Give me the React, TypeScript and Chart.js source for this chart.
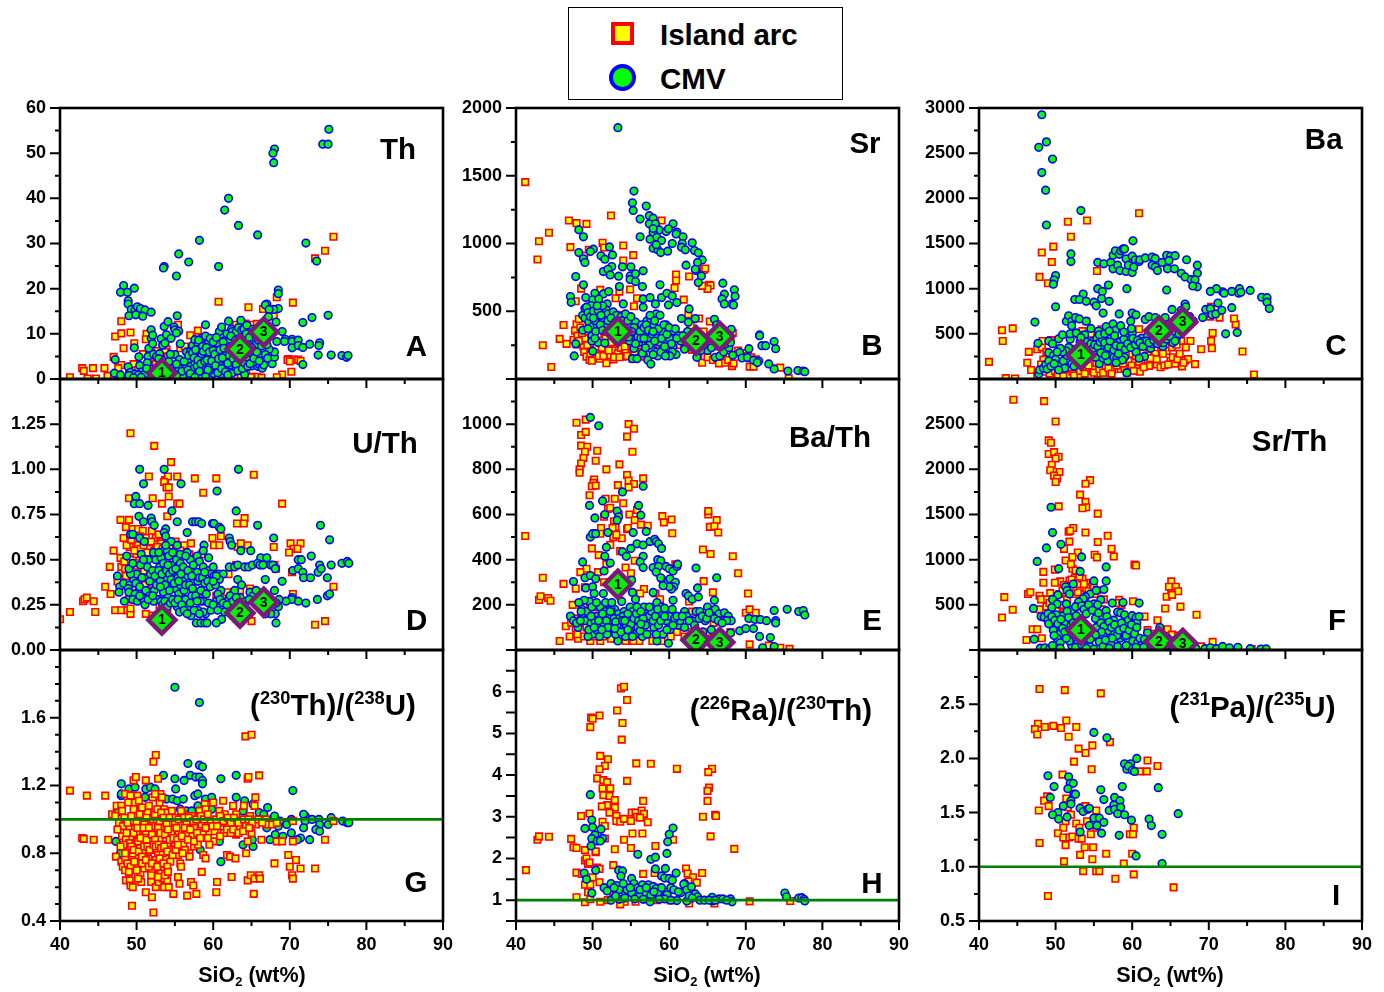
import React, { useEffect, useRef } from "react";
import { Chart, registerables } from "chart.js";
Chart.register(...registerables);

type P = number[];
const FONT = '"Liberation Sans", Arial, Helvetica, sans-serif';

const arcTh: P[] = [[75.7,31.5],[74.6,28.4],[73.3,26.7],[68.3,18.1],[60.7,17.1],[70.4,16.9],[64.6,15.9],[66.5,15.5],[67.9,13.9],[48,12.8],[47.2,9.4],[48,10.1],[49.2,10.3],[49.7,7.9],[48.3,6.8],[47,4.9],[42.9,2.4],[43.1,1.8],[44.3,2.4],[45.8,2.4],[41.3,.4],[43.6,.1],[44.7,.1],[46.2,.7],[48,3.1],[47.6,2.4],[49.6,3.3],[51.3,10],[51.2,8.8],[55.4,12],[57,9.7],[58,10.7],[55.7,6.8],[56.3,7.2],[53.9,6.6],[53.7,6],[54.1,5],[69.8,4.4],[70.4,4.3],[71.1,4.3],[71.4,4],[70.2,1.6],[69,1],[68.3,.4],[65.7,.5],[65,.5],[66.3,.3],[62.6,1.6],[63.2,1.5],[65.2,12],[65.7,12.2],[64.2,12.3],[63,12],[50.8,5.5],[51.6,4.2],[52.5,3.3],[49,1.2],[53.2,1.8],[54.7,1.5],[55.8,2],[58.7,.4],[60,2.5],[62,2],[64.3,1.2],[64.9,.4],[66,7.4],[67,9],[66.5,6.6],[52.7,6.2],[50.2,2],[56.9,5.8],[59.2,6],[64.8,5],[63.6,.8],[47.5,.9],[69.7,4.2],[70,3.9]];
const cmvTh: P[] = [[75.1,55.3],[74.3,52],[75,52],[68,50.9],[67.8,50],[67.9,47.9],[62,40],[61.5,37.4],[63.3,34],[65.8,31.9],[58.2,30.7],[72.1,30.1],[73.5,26.1],[55.5,27.7],[56.8,25.9],[53.6,24.9],[53.5,24.6],[55.2,22.8],[60.7,24.9],[48.3,20.7],[47.9,19.2],[48.8,19.2],[49.7,20.1],[48.9,17.3],[48.9,16.6],[49.3,15.4],[49.8,15.3],[50.1,16],[50.5,15.6],[51.1,15.3],[51.9,14.8],[49,14],[49.9,14.2],[50.8,13.9],[55.3,14],[49.7,6.9],[47.2,4.3],[75,14.1],[72.9,13.6],[71.7,12.5],[68.5,19.7],[68.5,18.9],[67,16.6],[66.8,16.4],[68.5,15.6],[67.9,15.4],[67.3,15.4],[67.2,13.8],[68.2,12.6],[69,10.5],[68.3,8.3],[69.4,8.8],[69.3,8.3],[70.3,8.8],[70.3,8.3],[70.3,6.9],[71.1,8.6],[71.1,7.4],[71.7,7],[72.6,7.7],[73.9,8],[73.8,7.4],[73.7,5.3],[75.4,5.3],[76.8,5.2],[77.4,4.8],[77.6,5.2],[71.7,3.2],[67.7,3.4],[68,4.8],[68,6],[67.3,6.6],
[47.1,1.3],[47.9,.9],[48.9,2.7],[49.2,1.5],[49.4,.5],[49.8,1.1],[50.3,4.9],[50.4,3],[50.7,1.6],[51.1,1.2],[51.5,5],[51.6,6.8],[51.4,3.6],[51.8,.9],[51.9,9],[51.9,10.9],[52.1,9.7],[52.1,7.8],[52.2,5.5],[52.6,5],[52.9,1.2],[53.2,8.9],[53.4,7.5],[53.7,7.9],[53.6,11.6],[54.1,12.7],[53.9,9.8],[54.5,9],[54.9,11.5],[55,10.9],[55.5,10.6],[55.2,10.2],[55.7,7.8],[55,5.4],[55.6,4.3],[55.5,2.4],[54.5,3],[54.2,1.8],[53.8,.8],[56.4,1.2],[56.5,3],[56.5,6],[56.9,4.3],[57.1,2.8],[57.3,7.4],[57.6,8.7],[58,7.6],[57.8,5],[57.6,3.7],[57.4,2.2],[57.9,1.2],[58.3,.9],[58.5,9],[59,9.5],[59.4,8],[59,12],[59.6,6.8],[59.9,5],[60,3.5],[59.3,3],[58.8,2.1],[60,1.2],[60.3,7.4],[60.5,7.5],[60.9,9.8],[60.8,10.5],[60.6,7.9],[60.9,5.5],[61.2,3.5],[60.5,2],[61,1.1],[61.1,11.5],[61.8,10],[62,12.8],[62.4,11],[62.5,10.5],[62,8.2],[62,4.3],[61.5,2.9],[62.4,3],[62.7,1.7],[63,10.4],[63.3,11.4],[63.7,10.8],[63.6,13],[64,11],[64.4,11.9],[64.1,8.5],[63.6,7],[63.3,3.8],[63.5,1.9],[64,2.7],[64.6,5.5],[64.9,4.5],[64.1,1],[65,2.9],[65.8,2.8],[66,3.2],[66.4,2.4],[66.6,3.1],[66.1,5.2],[66.8,5.4],[65.2,8.5],[65.5,7.6],[58.2,6.5],[58.6,4.4],[59.1,5.3],[59.4,1.6],[61.7,6],[62.9,5.6],[63,2.5],[65.4,3.9],[56,.5],[57,6],[53,3.1],[52,2.2],[50.9,.6],[49,.8],[61.5,5.7]];
const cmvThExtra: P[] = [[52.4,.8],[52.8,2.6],[53.3,4.2],[53.9,3],[54.4,2.3],[54.9,1],[55.2,3.3],[55.9,1.7],[56.2,3.9],[56.7,2],[56.8,5.2],[57,1.2],[57.3,5.8],[57.5,4.7],[57.7,6.5],[57.9,2.9],[58,4.2],[58.1,8.6],[58.2,1.7],[58.4,3.4],[58.5,5.6],[58.6,7.2],[58.7,6.1],[58.9,3.9],[59.1,7],[59.2,4.2],[59.3,2],[59.5,6],[59.6,9],[59.8,4],[60,6.3],[60,8.2],[60.2,5.5],[60.3,3],[60.4,9.2],[60.6,1.4],[60.7,4.5],[60.9,6.5],[61.1,2.3],[61.2,4.7],[61.3,8.2],[61.4,6.8],[61.6,1.6],[61.9,3.5],[62.1,5.2],[62.2,7.2],[62.3,9.5],[62.4,1.2],[62.6,4.5],[62.8,6.6],[62.9,8.6],[63,3.2],[63.2,1.8],[63.3,5],[63.5,9],[63.7,4.4],[63.8,2.3],[64,6],[64.1,3.5],[64.2,7.4],[64.3,10],[64.4,4.8],[64.5,2.8],[64.7,9.2],[64.8,3.4],[65,7],[65.1,5.6],[65.2,11],[65.3,4.6],[65.5,9.8],[65.7,6],[65.9,8.6],[66,4],[66.3,7.3],[66.7,9.3],[67,7.6],[67.1,4.6],[51,1],[51.3,2.3],[52.6,.4],[53.4,1.6],[50.2,.9],[50.6,.4],[49.6,.3],[54.6,.5],[55.2,.7],[57.6,.4],[59,.5],[61.9,.9],[54.2,3.9],[53,5.6],[52.9,4.5],[54.4,5.5]];

const arcSr: P[] = [[41.2,1453],[46.9,1170],[47.9,1150],[49.2,1145],[44.3,1079],[43,1017],[42.8,882],[47.1,973],[51.3,1005],[51.5,970],[52.4,1207],[54,985],[59,1170],[55.3,914],[54,875],[49.5,953],[48.9,910],[64.5,805],[64.7,815],[62.6,756],[60.9,771],[60.9,727],[60.7,672],[61.9,586],[65.2,695],[65.4,690],[65,665],[64.3,687],[54.9,660],[51,658],[48.5,667],[47.8,574],[53,596],[53.5,645],[55.8,596],[55.4,537],[53.6,473],[62.5,478],[63.9,446],[65.3,424],[46.2,399],[47.9,404],[48.2,443],[47.7,357],[45.7,296],[46.6,259],[43.5,249],[44.6,89],[51.9,140],[51.8,116],[52.7,145],[70.5,91],[71,91],[74.5,84],[75.6,5],
[47.5,290],[47.9,255],[48,320],[48.4,380],[48.8,240],[48.9,200],[49,300],[49.2,165],[49.6,140],[49.9,135],[49.5,350],[50,260],[50.3,200],[50.7,330],[50.9,150],[51.1,280],[51.5,205],[51.8,240],[52,300],[52.3,175],[52.6,215],[53,260],[53.3,190],[53.7,230],[54,165],[54.3,200],[54.6,260],[55,175],[55.3,235],[55.7,300],[56.1,200],[56.7,165],[57.2,260],[57.9,220],[58.5,180],[59.1,260],[60,230],[60.5,290],[61.1,250],[63,215],[63.8,175],[64.3,120],[65,160],[65.7,140],[66.3,150],[66.5,115],[67,170],[67.3,120],[67.7,140],[68.2,95],[68.4,115],[69,210],[70,190],[70.3,170],[70.7,160],[71.3,145],[66,240],[67.8,210],[68,300],[68.3,340],[64.5,350],[62.8,395],[63.5,295],[49.8,460],[50.5,420],[49.1,500],[54.6,440],[55.8,395],
[48.2,280],[48.6,340],[49.3,250],[49.7,190],[50.2,300],[50.5,240],[50.8,170],[51.2,230],[51.4,170],[51.7,300],[52.1,210],[52.4,270],[52.8,160],[53.2,300],[53.5,160],[53.8,280],[54.2,240],[54.5,170],[54.8,300],[55.2,150],[55.5,200],[56,250],[56.4,170]];
const cmvSr: P[] = [[53.3,1855],[55.4,1387],[55.2,1300],[55.3,1244],[57,1276],[56.2,1180],[56.2,1050],[57.4,1205],[57.9,1187],[57.4,1145],[58.2,1145],[60.5,1145],[58.7,1100],[57.9,1081],[57.9,1110],[59.6,1088],[59.9,1108],[61,1084],[60.9,1071],[61.8,1049],[57.5,1032],[58.4,1047],[59,1022],[60.4,1000],[61.7,1000],[61.6,973],[62.1,953],[63,1005],[63.3,948],[63.8,931],[57.9,965],[58.5,953],[58.3,990],[58.9,933],[59.8,943],[64.3,879],[63.7,860],[62.2,840],[63.5,800],[63.4,810],[64.2,761],[63.8,712],[67,707],[68.5,658],[67.2,626],[68.6,611],[66.9,591],[67.2,554],[68.2,554],[68.4,547],[68.1,367],[71.8,325],[71.8,320],[72.1,246],[72.6,246],[73.7,276],[73.9,224],[70.4,224],[69.2,195],[69.5,155],[70.2,158],[71,138],[71.7,133],[71.5,121],[73,111],[73.7,74],[75.5,59],[76.8,62],[77.5,59],[77.7,54],[68.3,175],[65.9,441],[63.4,446],[62.5,419],[61.6,446],[62.6,517],
[48.2,1101],[48.8,1049],[52.2,975],[50.1,958],[49.7,941],[48.2,933],[48.8,887],[49,860],[52.6,916],[51.1,909],[51.6,884],[52.5,830],[53.9,828],[55,828],[51.4,793],[52,810],[52.3,768],[53.4,759],[54.9,761],[55.6,776],[56.6,798],[54.9,735],[55.6,719],[53.5,682],[47.8,756],[48.8,695],[47.1,608],[47.2,566],[58.8,695],[56.5,682],[50.3,633],[51.4,628],[52.1,645],[49.1,601],[50,584],[50.8,591],[51.9,554],[49.8,542],[49,522],[54,554],[56.6,591],[57.5,601],[59,601],[59.7,633],[60.4,613],[61,564],[59.9,547],[58.2,554],[56.6,530],
[48.7,470],[49,450],[49.5,420],[50,390],[50.4,470],[50.6,400],[50.9,490],[51.4,440],[51.8,510],[52,480],[52.7,495],[53.1,470],[53.7,460],[54.3,480],[54.9,400],[55.6,420],[56,380],[56.4,400],[57.1,430],[57.6,440],[58,390],[58.3,480],[58.8,470],[59.1,350],[59.6,400],[60.2,350],[60.6,355],[61.2,320],[62.4,350],[48.7,360],[49.9,320],[50.4,350],[50.7,270],[50,205],[51.6,265],[47.6,170],[47.8,260],[54.8,280],[55.4,225],[55.2,150],[55.8,150],[56,270],[56.5,190],[57,340],[57.2,140],[57.4,300],[57.6,110],[57.7,220],[58.3,200],[58.5,170],[58.8,270],[59.2,220],[59.6,275],[60,300],[60.5,240],[60.9,180],[61.5,280],[62,220],[63.4,280],[63.6,160],[65,210],[65.5,230],[66,160],[66.6,170],[67.1,200],[67.8,230],[56.4,345],[55.8,340],[54.7,310],[52.8,360],[65.4,310],[66.2,400]];
const cmvSrExtra: P[] = [[49.2,530],[49.4,490],[49.7,460],[50.1,500],[50.3,430],[50.7,510],[51.1,470],[51.3,540],[51.6,400],[52,430],[52.4,450],[53,420],[53.8,430],[54.6,430],[55,460],[55.4,380],[55.9,310],[56.2,350],[56.7,380],[57,400],[57.3,360],[57.5,470],[57.8,330],[58.1,430],[58.4,300],[58.6,370],[59,300],[59.3,400],[59.7,330],[60,380],[60.3,260],[60.8,370],[61,300],[61.8,320],[57.4,250],[57.9,180],[58.1,280],[58.9,200],[59.4,240],[56.9,230],[56.3,300],[55.6,260],[55.1,350],[54.4,350],[56.7,300],[57.9,350],[60.4,200],[60.1,170],[59.5,170],[64.5,250],[64.1,210],[65.9,300],[66.7,240],[67.4,260],[68,270],[62.8,280],[63,240],[50.1,450],[50.6,540],[49.4,370],[49.9,280],[50.3,300],[51,400],[51.3,360]];

const arcBa: P[] = [[41.3,190],[43,540],[43.1,420],[44.4,560],[43.5,10],[44.7,5],[46.5,300],[46.8,100],[46.3,180],[47.6,40],[47.9,1130],[49,1060],[48.2,1400],[49.5,1295],[49.7,1465],[51.6,1740],[52,1575],[54.1,1755],[55.4,1195],[60.9,1835],[47.6,330],[48.2,350],[48.4,215],[48.7,80],[49.4,30],[50.5,20],[51.7,40],[53,30],[54.1,90],[55.5,60],[56.6,70],[57.4,100],[58.5,110],[59.5,100],[60.5,130],[61,80],[62,180],[62.2,145],[63.2,160],[63.7,130],[64.2,150],[65,200],[65.6,170],[66.5,140],[66.9,205],[67.3,220],[68.2,165],[69,330],[70.3,420],[70.4,340],[70.5,510],[73.5,605],[75.9,50],[74.4,305],[73.3,670],[71.4,680],[70.2,690],[70.3,800],[48.8,300],[49.8,200],[50,130],[50.7,60],[51.3,280],[52.2,80],[52.8,170],[53.5,120],[54.3,240],[54.8,110],[55.3,180],[56,310],[56.5,140],[57,250],[57.5,190],[58,300],[58.4,230],[59,120],[59.5,200],[60,280],[60.5,250],[60.9,550],[61.4,300],[62,260],[63,280],[63.8,350],[64.5,310],[65.2,350],[66.4,420],[67.6,420],[65.8,380],[54,640],[53.5,530],[55,460],[56,550],[58,340],[60.2,360],
[48.1,160],[48.9,120],[49.2,60],[49.9,90],[50.3,50],[51,30],[51.2,110],[51.9,130],[52.4,40],[53.2,90],[53.8,60],[54.3,150],[55,70],[55.7,110],[56.2,70],[56.9,120],[57.3,60],[58,150],[58.8,170],[59.3,70],[59.9,150],[60.2,90],[60.9,190],[61.5,130],[62.4,230],[63.2,220],[64,280],[64.7,160],[65.3,240],[65.9,220],[66.2,280],[66.7,180],[67,350],[48.3,420],[49.4,430],[50.5,330],[53,490],[53.7,420],[54.6,500],[56.4,440],[57.3,360],[59.2,420]];
const cmvBa: P[] = [[48.2,2925],[48.8,2625],[47.8,2565],[49.6,2435],[48.2,2285],[48.7,2090],[53.3,1865],[60.1,1530],[48.8,1705],[52,1385],[52,1300],[50,1145],[49.8,1095],[49.7,1050],[55.5,1290],[56.3,1275],[57.2,1290],[57.5,1370],[57.8,1420],[58.3,1380],[58.5,1420],[58.8,1440],[59,1440],[59.2,1330],[60,1360],[60.4,1320],[60.9,1300],[61,1320],[61.7,1340],[62.6,1350],[63,1335],[62.6,1260],[63,1240],[63.3,1200],[63.9,1290],[64.5,1370],[65,1360],[65.6,1365],[64.6,1220],[65.5,1220],[64.8,1310],[57.5,1220],[58.1,1260],[58.4,1200],[59.2,1190],[59.5,1260],[60,1180],[60.2,1240],[66.4,1170],[66.9,1130],[67.1,1320],[67.7,1100],[68,1040],[68.5,1260],[68.5,1170],[68.2,1100],[68.5,1020],[67.9,1030],[55.5,1000],[56.1,970],[56.9,1040],[59.3,1000],[64.5,985],[52.5,880],[53.6,940],[53.1,880],[54,860],[55,850],[55.3,810],[56,890],[57,860],[56.2,730],[58.3,720],[60,730],[60.5,710],[61.7,660],[62.2,690],[63,680],[59.8,640],[50,800],[47.3,630],[47.7,395],[49.1,420],[49.1,290],[49.6,390],[49.7,260],[50.4,445],[50.9,490],[51.4,640],[51.7,700],[51.9,440],[52.1,640],[52.1,590],[52.6,680],[53.1,665],[54,640],[53.8,490],[54.2,380],[54.9,420],[55.4,450],[55.6,530],[56,380],[56.3,340],[56.6,580],[56.8,450],[57,290],[57.4,390],[57.5,610],[57.8,540],[58.1,420],[58.3,330],[58.5,590],[58.7,300],[59,240],[59.2,490],[59.6,430],[60,510],[60.3,400],[60.5,300],[60.8,380],[61.2,450],[61.6,420],[61.6,250],[62,480],[62.4,340],[62.6,390],[63,530],[63.1,400],[63.5,440],[64,360],[64.3,680],[65.2,770],[65.8,460],[66.4,760],[66.9,830],[67,800],[67.5,690],[68,640],[69.2,680],[69.6,770],[70.2,780],[70.4,710],[70.9,720],[71.2,840],[71.7,760],[71.8,965],[71,1000],[72,950],[73,970],[70.2,970],[73.9,950],[74,1000],[74.2,960],[75.4,980],[76.9,905],[77.6,900],[77.6,850],[77.9,780],[72.2,500],[73.7,515],[73,790],[47.8,55],[47.9,100],[48.4,120],[48.7,160],[49.5,180],[50,220],[50.2,130],[50.7,160],[51,200],[51.2,120],[51.5,260],[52.1,170],[52.4,140],[52.9,230],[53,350],[53.6,300],[54,410],[54.4,330],[54.8,280],[55.3,300],[55.7,170],[56.2,230],[56.8,200],[57.6,240],[58,230],[58.4,410],[59.3,350],[60.9,230],[59.3,70],[58.7,210]];
const cmvBaExtra: P[] = [[53.2,410],[53.9,350],[54.1,300],[54.6,390],[54.9,340],[55.1,380],[55.5,360],[55.8,410],[56.1,440],[56.4,400],[56.6,310],[56.9,350],[57.1,420],[57.2,490],[57.6,320],[57.9,370],[58.2,280],[58.5,360],[58.9,440],[59.1,330],[59.4,390],[59.8,350],[60.1,450],[60.4,380],[60.7,430],[61,400],[61.4,360],[61.9,420],[62.2,400],[62.8,430],[63.3,390],[63.7,410],[64.1,400],[64.5,440],[64.9,470],[65.3,400],[65.6,420],[66.1,500],[52.1,330],[52.5,290],[51.7,350],[51.4,310],[50.9,300],[50.6,340],[50.2,300],[53.2,270],[55.2,240],[55.9,290],[56.5,260],[57.9,180],[51.9,500],[52.7,510],[53.3,460],[54.6,560],[55.7,490],[56.4,500],[57,530],[57.7,480],[58.9,520],[59.9,560],[48.9,110],[49.1,200],[49.4,140],[49.8,170],[50.4,100]];

const arcUTh: P[] = [[49.2,1.2],[52.3,1.13],[54.5,1.04],[51.6,.96],[53.7,.94],[54.1,.96],[55.3,.96],[57.6,.95],[60.4,.95],[65.3,.97],[53.6,.93],[53.9,.9],[54.2,.9],[54.2,.85],[58.7,.87],[49,.84],[52.1,.84],[53.3,.81],[55.3,.81],[55.6,.81],[69,.81],[54,.74],[64.1,.73],[63.1,.7],[64,.7],[47.9,.72],[49,.72],[48.6,.68],[49.5,.67],[50.2,.67],[50.8,.66],[52,.66],[52.5,.62],[52.9,.64],[53.1,.6],[51.2,.62],[50.2,.58],[49.1,.57],[47,.55],[50.5,.56],[51.7,.56],[53.2,.59],[54.3,.57],[55.1,.6],[56.2,.58],[57.1,.59],[58.5,.53],[59.9,.62],[60.1,.58],[63.2,.57],[63.6,.59],[67.9,.57],[70.1,.59],[71.4,.59],[70.5,.56],[69.9,.54],[71,.56],[46.5,.46],[47.9,.51],[48,.46],[48.4,.49],[48.5,.45],[49.5,.5],[50,.53],[50.8,.47],[52.3,.51],[48.9,.38],[45.9,.35],[46.6,.31],[43,.27],[43.2,.28],[43.5,.29],[44.4,.27],[44.6,.21],[41.3,.21],[40,.17],[47.2,.22],[48,.22],[48.8,.22],[49.2,.2],[49.2,.23],[50,.29],[51.2,.2],[52.1,.19],[53,.25],[54,.22],[56,.27],[58,.3],[60.4,.3],[61.5,.3],[63.5,.33],[64.8,.34],[65.5,.3],[66.2,.32],[65,.16],[73.3,.14],[74.6,.16],[75.7,.35],[70.4,.31],[70.3,.43],[68,.47],[62,.42],[63,.47],[55.5,.44],[57.6,.4],[59.2,.35],[50.5,.37],[51.5,.33],[53,.42],
[48.3,.62],[48.7,.58],[49.3,.61],[49.7,.55],[50.4,.63],[50.9,.58],[51.4,.54],[51.9,.6],[52.3,.55],[52.7,.57],[53.4,.56],[48.6,.41],[49.2,.45],[49.8,.43],[50.2,.48],[50.6,.42],[51,.44],[51.4,.4],[47.5,.38],[49,.28],[49.6,.35],[50.3,.33],[51.1,.36],[52.4,.38],[52.9,.36],[53.8,.36],[54.8,.5],[55.7,.55],[56.9,.53],[60.8,.58],[61,.63],[64.5,.58],[61.8,.32],[62.6,.3],[66.7,.3],[68.2,.45]];
const cmvUTh: P[] = [[50.4,1],[53.6,1],[63.3,1],[50.9,.92],[55.8,.92],[60.5,.88],[49.9,.85],[49.7,.81],[50.4,.81],[51.5,.8],[54.6,.77],[63,.77],[50.3,.74],[50.9,.71],[51.9,.73],[52,.71],[52.3,.69],[55.3,.71],[57.3,.71],[57.7,.71],[58.1,.71],[58.5,.7],[59.9,.7],[60.1,.7],[60.8,.68],[61,.67],[65.8,.69],[74,.69],[75.2,.61],[67.9,.62],[62.1,.62],[62.2,.6],[62.4,.58],[63.6,.55],[66.2,.51],[64.9,.55],[49.2,.64],[49.5,.64],[50.4,.62],[51,.6],[53.8,.67],[53.6,.65],[53.8,.63],[54.5,.6],[55.3,.58],[56.6,.54],[56.6,.65],[58.8,.58],[58.7,.55],[59.4,.51],[48.7,.52],[50.6,.53],[51.5,.5],[52.5,.5],[53.2,.51],[53.6,.55],[54,.55],[54.2,.52],[54.8,.47],[55.2,.5],[55.7,.48],[56.1,.46],[57,.5],[57.1,.44],[57.9,.52],[58.2,.49],[58.7,.46],[59.4,.44],[60,.46],[60.7,.42],[61.3,.42],[62.1,.46],[62.8,.46],[63.2,.47],[64.1,.46],[64.6,.46],[65.1,.47],[65.8,.48],[66.1,.47],[66.5,.47],[67,.51],[67.5,.47],[67.8,.47],[68.1,.45],[66.8,.39],[69,.38],[70.4,.44],[71.1,.5],[71.5,.5],[71.1,.45],[71.7,.43],[71.8,.4],[72.7,.4],[73.9,.47],[73.7,.43],[74.1,.45],[75.4,.47],[74.9,.4],[76.8,.48],[77.5,.49],[77.7,.48],[72.8,.52],[73.6,.28],[74.9,.3],[75.2,.31],[72.1,.26],[71.1,.27],[70.3,.29],[70.2,.28],[69.5,.27],[63.2,.39],[63.7,.36],[68,.33],[68.6,.28],[68.5,.24],[68.1,.2],[67.5,.2],[68.2,.15],[47.5,.41],[47.8,.35],[48.3,.37],[49.1,.36],[49.6,.39],[50,.42],[48.9,.34],[47.7,.32],[49,.32],[49.8,.31],[48.4,.27],[49.5,.28],[50.1,.27],[50.6,.29],[51,.27],[51.1,.25],[51.7,.38],[52.3,.33],[52.8,.28],[53.5,.32],[54,.39],[54.6,.35],[54.1,.29],[55,.34],[55.7,.36],[55.3,.24],[55.6,.21],[56.4,.28],[56.8,.24],[57.1,.19],[57.2,.3],[57.5,.38],[58,.38],[58.4,.33],[58.7,.27],[59,.2],[59.9,.36],[60.4,.27],[60.8,.39],[61,.33],[61.5,.21],[61.1,.17],[60.4,.15],[58,.22],[58.7,.21],[57.8,.15],[58.4,.15],[58.9,.15],[59.2,.15],[62,.28],[62.8,.33],[63.5,.29],[64.8,.32],[65.2,.3],[65.6,.33],[62.4,.22],[63,.17],[66.8,.2],[67.2,.27],[51.8,.42],[53,.46],[54.9,.42],[56.5,.41]];
const cmvUThExtra: P[] = [[49.2,.42],[49.9,.37],[50.4,.35],[50.7,.4],[51.2,.33],[51.4,.46],[51.7,.3],[52.1,.44],[52.2,.27],[52.4,.41],[52.6,.36],[52.9,.44],[53.1,.38],[53.3,.42],[53.5,.48],[53.7,.36],[53.9,.44],[54.1,.47],[54.3,.42],[54.5,.39],[54.7,.44],[54.9,.37],[55.1,.45],[55.4,.4],[55.5,.31],[55.8,.42],[56,.38],[56.2,.33],[56.4,.36],[56.7,.44],[56.9,.36],[57.3,.34],[57.4,.47],[57.7,.3],[57.9,.43],[58.2,.4],[58.3,.27],[58.6,.4],[58.9,.37],[59.1,.31],[59.3,.38],[59.6,.35],[59.8,.42],[60.1,.41],[60.3,.36],[60.4,.41],[60.6,.31],[60.9,.28],[53.2,.27],[53.4,.25],[53.7,.27],[54,.24],[54.4,.26],[54.7,.28],[55,.26],[55.4,.28],[55.9,.25],[56.2,.22],[56.6,.2],[57,.26],[57.5,.22],[57.9,.27],[58.2,.2],[59.4,.26],[59.7,.22],[60,.25],[60.6,.22],[61.3,.26],[61.8,.25],[62.2,.3],[62.6,.27],[63,.29],[63.3,.26],[63.9,.24],[64.3,.27],[64.7,.28],[65.4,.27],[66,.26],[66.4,.24],[67,.24],[67.7,.26],[68.2,.26],[51.5,.28],[52.1,.3],[50.4,.3],[49,.45],[50.5,.47],[49.5,.48],[50.9,.5],[52.2,.54],[52.9,.54],[53.8,.58],[54.7,.54],[55.7,.53],[56.4,.52],[53.1,.35],[54.3,.33],[55.5,.38],[57.2,.41],[58.9,.43],[60,.38]];

const arcBaTh: P[] = [[41.2,505],[43,222],[43.2,238],[44.2,230],[44.5,218],[43.5,320],[46.2,293],[47.9,1006],[49.1,1020],[48.5,952],[49.1,966],[48.5,905],[49.3,900],[49,878],[50.6,882],[48.8,850],[50.4,838],[48.5,826],[48.3,800],[48.3,785],[50.2,755],[50.1,740],[49.9,725],[50.4,728],[49.6,685],[54.7,1000],[55.4,980],[54.5,945],[55.2,878],[53.5,822],[51.8,800],[54.5,775],[54.7,750],[56.6,760],[55.4,735],[53.3,730],[54.7,720],[51.7,670],[52,625],[52.9,670],[54,650],[52.3,630],[51.5,590],[52.8,570],[54.8,600],[55.8,620],[55.5,575],[56.3,555],[57.2,550],[59.1,593],[59.3,565],[60.3,578],[60.4,517],[51.1,540],[53,545],[54.5,535],[53.8,495],[54.6,540],[51,515],[49.9,450],[52.3,465],[53.6,438],[50.8,420],[51.8,380],[50.7,345],[49.2,360],[48.4,345],[47.8,272],[49,278],[47.4,200],[48.5,170],[54.3,365],[55.5,395],[55,340],[56.7,270],[56.2,250],[58.2,250],[58.8,225],[60.8,380],[61,375],[64.4,445],[65.4,425],[68.3,415],[69,340],[65.1,600],[65.1,615],[66.2,575],[65.3,545],[65.9,548],[66.4,520],[64.5,305],[65.7,255],[70.3,250],[62.6,215],[70,165],[70.5,180],[71.3,165],[46.5,105],[47.8,95],[47,60],[45.7,40],[48.1,50],[48.8,120],[49.5,75],[50.4,90],[51,40],[52,70],[53,50],[54,100],[54.9,60],[56.1,40],[57.5,70],[59,40],[61,80],[62,60],[63.5,40],[65,80],[65.8,120],[67,30],[68,80],[70.5,25],[73,20],[74.5,10],[75.7,5],[64.4,150],[66.8,160],[63,170],[49.9,150],[50.4,190],[48.8,200],[51.5,180],[52.6,120],[55.5,180],[57,130],[59.5,150],
[47.2,120],[47.6,140],[48,70],[48.9,60],[49.2,100],[49.7,40],[50.1,60],[50.9,110],[51.4,60],[51.8,90],[52.4,50],[52.9,90],[53.5,120],[54.3,40],[55.3,40],[56.7,110],[57.8,40],[60.2,60],[62.9,80],[64.1,60],[52.2,300],[51.5,300],[53.2,330],[52.7,500],[53.4,600],[52.6,540],[53.1,510]];
const cmvBaTh: P[] = [[49.7,1030],[50.8,993],[56.6,725],[53.9,700],[51.3,660],[49.6,640],[56,640],[53.2,615],[56.3,597],[51.6,600],[53.4,590],[53.2,575],[50.3,585],[49.7,500],[50,515],[50.4,515],[52,520],[55.3,520],[57,525],[55,450],[55.8,470],[56.6,465],[57.5,480],[58.1,490],[58.3,480],[58.6,470],[59,450],[51.8,455],[53.9,435],[51.6,415],[54.4,415],[56.6,415],[52.3,385],[48.7,390],[58.5,400],[58.9,395],[56.2,390],[56.6,365],[57.9,365],[58.6,370],[58.3,345],[59.6,370],[60,360],[60.5,350],[61,370],[61.1,380],[63.5,363],[66.2,320],[51.5,350],[47.5,303],[49,320],[49.7,330],[50.4,315],[55.1,310],[59,315],[59.8,300],[60.1,315],[60.8,300],[60.6,280],[60.3,270],[60,280],[59.2,285],[58.9,320],[63.7,275],[49.1,275],[50,280],[50.2,250],[51.4,250],[55.2,255],[57.9,255],[55.6,225],[53.8,215],[60.5,220],[62.2,250],[62.5,240],[63,225],[63.8,235],[65.9,220],[49.6,215],[48.9,220],[51,190],[52,200],[52.9,180],[53.4,160],[54.1,170],[54.9,190],[55.2,170],[56.7,190],[57,150],[58.1,190],[58.4,210],[58.8,160],[59,190],[59.6,130],[60,150],[60.4,180],[61.2,110],[62,170],[62.3,150],[63,130],[63.5,170],[64,170],[65,190],[65.6,170],[66,180],[66.5,160],[67.2,165],[67.7,150],[68.1,130],[67.5,130],[68,75],[69.2,85],[70,95],[70.4,140],[71,95],[71.2,135],[71.9,135],[72.7,130],[73.9,130],[73.9,120],[73.7,175],[75.4,180],[76.9,170],[77.5,175],[77.7,155],[71.8,60],[73.2,55],[72.2,10],[73.7,15],[47.1,150],[47.5,130],[48.1,100],[48.7,150],[49,130],[49.8,120],[50,70],[50.6,150],[51,190],[51.4,120],[51.9,70],[52.2,150],[52.6,100],[53.3,40],[53.9,100],[54.3,60],[54.9,140],[55.5,70],[55.9,100],[56.5,60],[57.4,150],[58,100],[58.4,40],[59.2,70],[59.9,30],[60.1,90],[61.4,130],[62,100],[63,60],[64.4,80],[65.5,90],[64.7,130],[49.4,60]];
const cmvBaThExtra: P[] = [[47.9,120],[48.4,130],[48.6,180],[49.2,170],[49.5,90],[49.9,190],[50.3,130],[50.5,90],[50.9,60],[51.2,150],[51.6,170],[51.8,130],[52,100],[52.4,180],[52.8,140],[53,70],[53.2,110],[53.5,140],[53.7,80],[54,150],[54.4,110],[54.6,160],[54.8,85],[55,115],[55.2,60],[55.4,140],[55.7,160],[56,130],[56.2,85],[56.6,140],[56.9,110],[57.1,70],[57.7,170],[57.9,130],[58.2,150],[58.6,110],[58.9,130],[59.4,150],[59.7,90],[60.7,140],[61,150],[61.7,150],[62.6,130],[63.3,110],[63.9,140],[64.3,150],[64.9,140],[65.2,165],[65.9,140],[66.4,130],[66.9,120],[48.2,210],[48.5,170],[49.8,150],[50.5,210],[51.3,160],[51.7,210],[52.3,170],[52.5,210],[53,125],[53.9,130],[54.2,130],[55.8,190],[56.3,170],[57.4,190],[58.5,180],[59.4,185],[50.2,100],[50.8,130],[51.2,90],[52.9,95],[54.6,90],[56.3,115],[58.3,70],[60.5,110]];

const arcSrTh: P[] = [[44.5,2770],[48.5,2755],[50,2530],[49.1,2320],[49.4,2295],[49.1,2170],[49.8,2190],[50.4,2140],[50,2120],[49.5,2050],[50.5,1970],[49.3,1990],[49.8,1930],[50.2,1900],[50,1860],[54.5,1880],[53.9,1840],[53.2,1720],[53.9,1640],[54,1580],[53.5,1570],[50.4,1590],[55.5,1510],[52.3,1350],[51.7,1310],[51.9,1320],[53.9,1300],[56.8,1265],[55.5,1195],[51.8,1200],[51.1,1120],[57.3,1120],[52.9,1080],[55.1,1055],[55.4,1025],[57.6,1035],[51.3,990],[52.2,1030],[60.3,945],[60.5,935],[52.2,900],[48.4,865],[49.9,890],[52.5,800],[51.8,770],[53,730],[50.6,760],[49.9,745],[48.4,745],[47.9,600],[48.1,560],[46.4,620],[46.7,640],[49.3,630],[50.5,620],[54,745],[54.7,700],[65.1,760],[64.8,700],[65.7,700],[65.1,630],[66,650],[64.5,590],[65.2,610],[64.3,460],[66.3,480],[68.4,390],[58.3,555],[58.6,500],[60.1,540],[57.9,520],[43.3,585],[44.4,445],[43,360],[46.2,110],[47,230],[47.6,230],[48.2,130],[49.5,320],[50.1,450],[51,230],[52.8,480],[55.4,380],[61.6,370],[63.3,330],[64.6,230],[65.2,170],[66,160],[70.5,90],[62,220],[62.7,180],[69,40],[75.6,10],[53.5,300],[50.5,180],[47.9,450],[48.8,480],[51.5,560],[52.5,620],[53.6,620],[55.1,620],[56.3,560],[54.7,480],[56,450],[51.1,410],[48.7,360],
[51.1,720],[51.7,680],[52.1,780],[52.9,640],[53.2,850],[53.5,790],[54,680],[54.3,650],[55,700],[55.4,660],[48.9,560],[49.2,520],[50.8,500],[52,950],[52.6,880],[53.1,810],[52.3,700],[53.7,730],[50.9,660]];
const cmvSrTh: P[] = [[49.4,1580],[49.6,1300],[48.8,1130],[50.7,1170],[47.6,980],[53.4,1030],[56.6,920],[53.2,870],[50.4,900],[55,765],[56.6,765],[52.3,730],[51.3,700],[51.5,660],[51.8,620],[54.5,620],[53.9,590],[53.6,570],[55.3,660],[56.3,670],[50.3,610],[49.6,560],[55.9,555],[53,530],[55,510],[55.5,500],[51.4,510],[50.2,510],[49.5,470],[47.1,460],[52.1,440],[52.6,480],[53.4,490],[56.1,370],[56.6,435],[57.4,520],[58.8,525],[60.9,520],[48.1,370],[48.5,365],[49,400],[49,330],[50.1,390],[51,380],[51.2,290],[52,350],[57.6,330],[58.1,420],[58.5,410],[59,390],[59.5,330],[60,380],[60.5,360],[60.6,300],[60.9,370],[59.2,260],[58,270],[57.7,190],[56.8,210],[56.2,160],[55.3,250],[54.8,140],[54,120],[50.6,180],[50,250],[49.7,220],[47.2,120],[48,20],[48.6,25],[49.2,10],[50,35],[54.3,220],[53.1,150],[52.1,50],[58.4,130],[59,150],[59.5,110],[60.1,100],[60.7,80],[61.3,90],[58.1,40],[57.2,70],[55.7,90],[56.2,40],[61.8,60],[62,190],[62.5,80],[63.6,250],[64.1,160],[64.8,60],[65.4,100],[66.2,90],[67,60],[67.8,30],[68.3,20],[69.5,15],[70.2,25],[71,15],[71.8,40],[72.7,25],[73.8,30],[75.4,15],[76.8,10],[77.5,12],[52.5,170],[53.9,280],[54.5,40],[55,10],[59.9,20]];
const cmvSrThExtra: P[] = [[49.1,290],[49.5,370],[49.9,330],[50.3,290],[50.7,340],[50.9,240],[51.2,200],[51.5,430],[51.7,360],[52,270],[52.3,300],[52.7,380],[53,280],[53.4,340],[53.7,450],[54,400],[54.3,500],[54.8,440],[55.2,350],[55.6,410],[55.9,300],[56.3,260],[56.7,370],[57,310],[57.3,250],[57.7,280],[58,160],[58.3,220],[58.6,300],[58.9,240],[59.2,160],[59.6,220],[59.9,280],[60.3,180],[60.6,250],[61,130],[61.5,30],[57.4,130],[56.5,110],[56,200],[55.2,170],[54.5,120],[53.5,200],[52.9,90],[51.8,100],[50.2,130],[49.8,160],[50.6,80],[51.4,130],[49.6,50],[50.6,20],[52.6,30],[53.4,60],[54,20],[57,20],[59.2,50],[60.5,30],[61.6,120],[62.8,30],[63.5,120],[64.6,130]];

const arcThU: P[] = [[41.3,1.17],[43.5,1.14],[45.9,1.14],[42.9,.89],[43.1,.885],[44.4,.88],[46.3,.88],[46.8,1.03],[47.2,1.02],[47.4,1.08],[47.7,.98],[48,1.08],[48.1,1.05],[48.5,1.15],[48.9,1.1],[49.2,1.14],[49.8,1.1],[50.1,1.14],[50.3,1.11],[49.6,1.23],[49.9,1.25],[51.2,1.23],[52.5,1.38],[52.2,1.34],[52.8,1.24],[53.1,1.15],[52.1,1.13],[53,1.1],[53.6,1.06],[51.4,1.04],[50,1.02],[48.2,.96],[49.1,.95],[49.8,.95],[50.5,.97],[51,.9],[48.1,.9],[49.2,.89],[47.3,.78],[48,.75],[48.2,.72],[48.5,.7],[49,.8],[49.5,.79],[50.3,.77],[50.1,.73],[50.5,.68],[49.5,.7],[48.6,.64],[49.1,.64],[49.2,.61],[49.5,.6],[49.4,.49],[51.2,.57],[52,.54],[52.2,.45],[51.9,.63],[52.5,.6],[52.9,.63],[53.4,.65],[53.6,.6],[54.2,.6],[54.8,.56],[55.4,.66],[55.6,.62],[54,.64],[52.3,.75],[51.3,.73],[52,.7],[53,.7],[53.6,.7],[53.8,.77],[51.4,.8],[52,.82],[52.6,.82],[50.8,.85],[49.8,.84],[50.4,.83],[51.9,.87],[53,.88],[54,.85],[54.5,.82],[55,.86],[55.7,.84],[56.1,.85],[57.5,.84],[56.9,.8],[55.7,.74],[55.8,.72],[57.1,.63],[57.4,.61],[56.6,.55],[57.8,.56],[58.5,.69],[58.7,.79],[59,.77],[60.5,.63],[60.4,.57],[64.5,.64],[64.9,.67],[65.4,.65],[66,.67],[66.1,.65],[65.3,.56],[62.4,.66],[61.8,.79],[62.2,.78],[62.9,.77],[64.3,.8],[69.8,.79],[70.8,.76],[68,.74],[70,.72],[71.4,.71],[70.3,.67],[70.4,.65],[73.3,.71],[74.6,.88],[68.3,.87],[69,.87],[70.4,.87],[66.3,.88],[64.5,.87],[60,.87],[59.5,.85],[58,.85],[64.2,1.49],[65,1.5],[64.5,1.24],[64.6,1.25],[66,1.26],[65.5,1.13],[65.4,1.08],[61.3,1.11],[64,1.08],[62.6,1.08],[60,1.1],[58.9,1.09],[53.3,1.13],[52.4,1.15],[54,1.04],[56,1.03],[57.2,1.02],[58.2,1.05],[59,1.06],[60.8,1.05],[61.5,1.03],[63,1.03],[64.8,1.02],[66.9,1],[70.4,.99],[75.7,.99],[53,.99],[55,.98],[56.5,.98],[57.5,.95],[58.5,.97],[60,.97],[61,.98],[62,.96],[62.9,.93],[63.5,.95],[64.3,.97],[65.6,.97],[67,.97],[67.7,.97],[68.3,.98],[49.6,.99],[50.8,1],[51.8,1],[47.5,.94],[48.7,.92],[50,.91],[51.2,.93],[52.2,.93],[53.5,.95],[54.5,.92],[55.5,.93],[56.5,.92],[57.3,.9],[58.6,.92],[59.5,.93],[60.2,.93],[61.4,.92],[63,.91],[65,.92],[50.2,.87],[51.5,.77],[52.8,.79],[53.4,.8],[54.4,.75],[49.4,.76],[48.5,.77],[51,.71],[52.5,.76],[53.2,.68],[50.8,.81],[49,.83],[55.4,.79],[56.3,.82],[56.9,.78]];
const arcThUExtra: P[] = [[48.4,1.01],[48.8,.98],[49.3,1.02],[49.6,1.06],[50,.98],[50.4,1.03],[50.7,1.07],[51,.97],[51.3,1.01],[51.6,1.08],[52,.96],[52.4,1.03],[52.7,1.06],[53.2,1.04],[53.5,1.01],[53.9,.97],[54.3,1.01],[54.6,1.05],[55.1,1.01],[55.5,1],[55.8,1.05],[56.2,1.01],[56.8,1.01],[57.4,.99],[57.8,1],[58.4,1.02],[58.8,1],[59.3,1.03],[59.7,.99],[60.4,1],[60.9,1.02],[61.3,.99],[61.9,1.01],[62.3,.98],[62.7,1.01],[63.3,.98],[64,1],[64.6,1],[65.1,.98],[65.9,1],[66.4,.98],[48.6,.88],[49,.86],[49.6,.92],[50.1,.95],[50.5,.89],[50.9,.95],[51.3,.88],[51.6,.95],[52,.91],[52.4,.88],[52.8,.95],[53.1,.92],[53.3,.85],[53.7,.91],[54.1,.94],[54.3,.88],[54.8,.89],[55.2,.95],[55.3,.88],[55.9,.9],[56.3,.95],[56.7,.88],[57,.94],[57.5,.87],[57.9,.92],[58.3,.89],[59,.95],[59.3,.89],[59.9,.96],[60.5,.96],[60.9,.9],[61.8,.94],[62.3,.92],[62.6,.94],[63.3,.92],[63.9,.93],[64.7,.95],[49.3,.84],[49.6,.82],[50.3,.81],[50.7,.78],[51,.84],[51.4,.84],[51.7,.82],[52.2,.85],[52.5,.84],[52.9,.85],[53.2,.83],[53.6,.84],[54,.81],[54.7,.79],[55.1,.82],[55.4,.85],[56,.8],[48.8,.74],[49.2,.72],[49.7,.75],[50,.7],[50.7,.74],[51.2,.76],[51.6,.72],[52,.74],[52.7,.72],[53,.77],[53.5,.74],[54,.72],[48.5,.8],[48.3,.85],[47.9,.84],[50.6,.63],[49,.69],[51.9,.67],[52.8,.66],[53.7,.67],[50.2,.65],[54.1,.69]];
const cmvThU: P[] = [[55,1.78],[58.2,1.69],[56.7,1.33],[58.2,1.32],[58.6,1.31],[53.5,1.26],[55,1.24],[55.1,1.18],[56.2,1.23],[57,1.26],[57.7,1.25],[58.2,1.25],[58.6,1.23],[58.6,1.21],[61,1.24],[63,1.26],[70.4,1.17],[48,1.21],[49,1.18],[49.8,1.19],[51.2,1.18],[51.8,1.19],[52.4,1.18],[48,1.14],[50,1.12],[51.1,1.13],[53.9,1.12],[54.7,1.12],[55.3,1.11],[56.1,1.12],[57.6,1.14],[58,1.15],[59,1.12],[59.8,1.13],[63,1.13],[64.1,1.11],[65.2,1.09],[67.1,1.07],[50.4,1.07],[55.7,1.06],[56.5,1.05],[57.2,1.05],[58,1.08],[59.8,1.06],[63.9,1.05],[66,1.04],[66.6,1.03],[68,1.02],[68.7,.99],[69.6,.97],[70.2,1],[70.2,.92],[71.4,.89],[71,.88],[72.6,.88],[72,1.02],[71.8,1.03],[72,.99],[71.8,.95],[72.9,1],[73.8,1],[73.9,.97],[73.4,.94],[73.9,.93],[75,.97],[75.4,1.01],[76.9,.99],[77.5,.98],[77.7,.98],[69.1,.9],[67.4,.88],[68.1,.91],[68.5,.96],[67,.95],[63.9,.85],[65.2,.84],[65.1,.88],[60.8,.87],[61,.75],[47.3,.87],[47.4,1.04],[48,1.15],[58.3,.82],[53.5,.8],[50.7,.8],[47.9,.8],[52.5,.75]];

const arcRaTh: P[] = [[41.3,1.72],[42.8,2.45],[43,2.53],[44.3,2.52],[47.2,2.47],[47.5,2.27],[47.9,2.25],[48.5,3.02],[47.9,1.66],[48.6,1.63],[47.9,1.07],[49,.95],[49,1.37],[49.7,1.37],[49.4,1.19],[49.7,1.02],[49,1.95],[49.2,2],[49.4,1.87],[49,2.2],[49.6,1.9],[50.4,2.15],[50.6,1.78],[50.9,1.75],[50.9,1.43],[50,1.55],[49.6,3.08],[49.7,5.15],[49.8,5.38],[50,5.35],[50.9,5.43],[53.2,5.55],[53.7,6.08],[54.1,6.12],[54.5,5.8],[53.9,5.25],[53.8,4.85],[51,4.46],[52,4.38],[51.6,4.22],[50.9,4.14],[50.6,3.92],[51.4,3.88],[51.9,3.83],[54.5,3.86],[55.7,4.28],[57.6,4.27],[61,4.15],[65.6,4.15],[65.1,4.07],[65.2,3.7],[65,3.62],[65,3.38],[66,3.05],[66.1,3.02],[64.4,3],[65.4,2.53],[68.5,2.23],[51.3,3.68],[52.3,3.68],[51.4,3.52],[52.2,3.5],[52.9,3.4],[56.6,3.38],[51.9,3.28],[51.2,3.25],[52.9,3.22],[52.2,3.1],[53.1,3.02],[55.1,3.1],[55.6,3.1],[56.4,3.15],[56.7,3.07],[55.8,3],[56.2,2.98],[57.2,2.87],[53.1,2.9],[53.6,2.88],[54.1,2.95],[55,2.9],[51.3,2.88],[51.6,2.78],[55.2,2.6],[56.5,2.6],[51.6,2.48],[54.1,2.45],[60.5,2.45],[58.2,2.3],[52.9,2.22],[55,2.25],[50.4,2.17],[52.7,1.84],[62.2,1.76],[62.4,1.64],[64.3,1.65],[63.1,1.55],[62.5,1.45],[63.6,1.42],[56.6,1.63],[58.1,1.65],[54.2,.96],[53.6,.9],[52,1],[52.7,1.05],[51,.96],[55.6,.96],[57,1.02],[58.4,1],[60.2,.99],[62.6,.92],[65.9,.92],[70.5,.97],[75.8,.98],[58.6,1.3],[53,1.15],[59.8,1.2]];
const cmvRaTh: P[] = [[49.7,3.53],[49.9,2.92],[50,2.75],[49,2.72],[51.1,2.7],[50.3,2.56],[51.3,2.48],[49.9,2.48],[50.6,2.42],[51,2.42],[49.8,2.3],[60.5,2.73],[60,2.58],[59.8,2.4],[59.7,2.12],[55.9,2.1],[57.6,1.98],[58.2,2.03],[50.4,1.72],[49.9,1.17],[48.9,1.65],[49.2,1.5],[53.4,1.72],[53.9,1.7],[53.7,1.58],[55.1,1.52],[58.2,1.75],[59.5,1.76],[60.9,1.65],[59,1.58],[59.4,1.53],[60,1.52],[60.4,1.48],[62,1.4],[61.9,1.38],[60.2,1.3],[51.5,1.3],[51.9,1.22],[52.4,1.4],[53.1,1.35],[53.5,1.25],[54.3,1.17],[54.5,1.25],[55.4,1.4],[55.9,1.3],[55.1,1.18],[56.5,1.37],[56.9,1.18],[57.3,1.37],[57.9,1.33],[58.3,1.28],[58.7,1.2],[58.5,1.18],[57.6,1.12],[56.1,1.1],[59.7,1.13],[61.5,1.18],[62.3,1.25],[62.9,1.32],[63.4,1.15],[63.7,1.08],[64,1],[65.6,1.07],[66.5,1.03],[67,1.03],[68,1.03],[68.2,.96],[52.4,1],[53.5,1.02],[55.5,1.03],[57.5,.96],[59.4,1.03],[61,.99],[62.3,.98],[65.7,.98],[75.1,1.17],[75.3,1.08],[76.9,1.05],[77.3,1.06],[77.6,1.02],[77.7,.98],[52.8,1.3],[54,1.4],[54.9,1.3],[56.2,1.25],[57,1.3],[58,1.2],[59,1.3],[60.6,1.25],[61.2,1.2],[62.6,1.1],[63,1.05],[64.6,1],[65.2,1],[66,1],[67.5,1],[53,1.1],[54.2,1.05],[56.6,1.02],[58.7,1.02],[60.2,1]];

const arcPaU: P[] = [[47.9,2.64],[51.2,2.63],[55.9,2.6],[47.7,2.32],[47.3,2.27],[47.6,2.22],[48.6,2.29],[49.7,2.3],[50.7,2.28],[52.7,2.29],[51.4,2.35],[51.7,2.2],[54.8,2.12],[57.1,2.15],[53,2.09],[53.9,2.05],[52.4,1.97],[54.7,1.9],[62,1.98],[63.3,1.93],[61,1.88],[61.9,1.88],[50.9,1.85],[48.9,1.65],[48.5,1.61],[51.4,1.63],[47.8,1.52],[49.1,1.56],[51.6,1.55],[53.5,1.55],[53.9,1.56],[55.3,1.52],[52,1.48],[51.3,1.42],[54.1,1.42],[52.7,1.4],[51,1.36],[53.1,1.36],[55.3,1.36],[60.2,1.36],[50.3,1.31],[54.6,1.3],[59.7,1.3],[60.1,1.3],[51,1.27],[51.8,1.27],[52.2,1.28],[53,1.26],[53.4,1.26],[47.9,1.22],[51.3,1.2],[53.8,1.18],[54.9,1.18],[53.2,1.11],[56.6,1.12],[60,1.12],[51.1,1.05],[54.8,1.07],[58.9,1.03],[53.6,.96],[55.3,.96],[55.7,.96],[60.2,.93],[57.8,.89],[65.4,.81],[49,.73]];
const cmvPaU: P[] = [[55,2.24],[56.7,2.19],[60.6,2],[59,1.95],[59.8,1.95],[59.3,1.9],[59.5,1.93],[60,1.89],[60.3,1.88],[49,1.84],[51.7,1.83],[51.9,1.77],[52.3,1.77],[51.6,1.72],[49.8,1.74],[55.9,1.71],[58.7,1.74],[63.4,1.73],[52.4,1.67],[52.6,1.67],[52,1.61],[49.3,1.64],[52,1.58],[56.3,1.62],[57.7,1.64],[58.4,1.61],[57.6,1.57],[51,1.56],[50.3,1.5],[49.6,1.48],[53.2,1.54],[53.6,1.51],[54.2,1.53],[54.4,1.54],[57,1.52],[57.7,1.53],[58.5,1.55],[58.1,1.49],[59,1.48],[66,1.49],[51.5,1.46],[50.4,1.44],[55,1.45],[55.7,1.45],[56.3,1.41],[59.9,1.43],[62.2,1.44],[54.4,1.38],[55.4,1.38],[62.5,1.38],[53.2,1.32],[56,1.31],[58.3,1.29],[63.9,1.3],[60.5,1.1],[63.9,1.03]];

// Reference points 1, 2, 3
const refSiO2 = [53.3, 63.5, 66.6];
const refTh = [1.3, 6.6, 10.4];
const refSr = [349, 285, 315];
const refBa = [265, 535, 630];
const refUTh = [0.166, 0.205, 0.264];
const refBaTh = [291, 44, 34];
const refSrTh = [221, 92, 74];

const xTickLabels = [40, 50, 60, 70, 80, 90];
const yLabelsA = [0, 10, 20, 30, 40, 50, 60];
const yLabelsB = [500, 1000, 1500, 2000];
const yLabelsC = [500, 1000, 1500, 2000, 2500, 3000];
const yLabelsD = [0, 0.25, 0.5, 0.75, 1, 1.25];
const yLabelsE = [200, 400, 600, 800, 1000];
const yLabelsF = [500, 1000, 1500, 2000, 2500];
const yLabelsG = [0.4, 0.8, 1.2, 1.6];
const yLabelsH = [1, 2, 3, 4, 5, 6];
const yLabelsI = [0.5, 1, 1.5, 2, 2.5];

const COLS = [60, 516, 979];
const ROWS = [108, 379, 650];
const PW = 383;
const PH = 271;
const PADT = 15;
const PADR = 15;
const AXW = 60;
const AXH = 60;

type Panel = {
  col: number; row: number; arc: P[]; cmv: P[]; refs?: number[]; min: number; max: number;
  step: number; major: number; labels: number[]; digits: number; unity?: boolean; arcOnTop?: boolean;
};

const panels: Panel[] = [
  { col: 0, row: 0, arc: arcTh, cmv: [...cmvTh, ...cmvThExtra], refs: refTh, min: 0, max: 60, step: 5, major: 10, labels: yLabelsA, digits: 0 },
  { col: 1, row: 0, arc: arcSr, cmv: [...cmvSr, ...cmvSrExtra], refs: refSr, min: 0, max: 2000, step: 250, major: 500, labels: yLabelsB, digits: 0 },
  { col: 2, row: 0, arc: arcBa, cmv: [...cmvBa, ...cmvBaExtra], refs: refBa, min: 0, max: 3000, step: 250, major: 500, labels: yLabelsC, digits: 0 },
  { col: 0, row: 1, arc: arcUTh, cmv: [...cmvUTh, ...cmvUThExtra], refs: refUTh, min: 0, max: 1.5, step: 0.125, major: 0.25, labels: yLabelsD, digits: 2 },
  { col: 1, row: 1, arc: arcBaTh, cmv: [...cmvBaTh, ...cmvBaThExtra], refs: refBaTh, min: 0, max: 1200, step: 100, major: 200, labels: yLabelsE, digits: 0 },
  { col: 2, row: 1, arc: arcSrTh, cmv: [...cmvSrTh, ...cmvSrThExtra], refs: refSrTh, min: 0, max: 3000, step: 250, major: 500, labels: yLabelsF, digits: 0 },
  { col: 0, row: 2, arc: [...arcThU, ...arcThUExtra], cmv: cmvThU, min: 0.4, max: 2, step: 0.1, major: 0.4, labels: yLabelsG, digits: 1, unity: true, arcOnTop: true },
  { col: 1, row: 2, arc: arcRaTh, cmv: cmvRaTh, min: 0.5, max: 7, step: 0.5, major: 0.5, labels: yLabelsH, digits: 0, unity: true },
  { col: 2, row: 2, arc: arcPaU, cmv: cmvPaU, min: 0.5, max: 3, step: 0.25, major: 0.5, labels: yLabelsI, digits: 1, unity: true },
];

const framePlugin = {
  id: "frame",
  afterDatasetsDraw(chart: any, _a: any, opts: any) {
    const { ctx, chartArea: ca, scales } = chart;
    ctx.save();
    chart.data.datasets.forEach((ds: any, i: number) => {
      if (!ds.isRef) return;
      ctx.save();
      ctx.beginPath();
      ctx.rect(ca.left, ca.top, ca.right - ca.left, ca.bottom - ca.top);
      ctx.clip();
      ctx.fillStyle = "#000";
      ctx.font = `bold 14px ${FONT}`;
      ctx.textAlign = "center";
      ctx.textBaseline = "middle";
      chart.getDatasetMeta(i).data.forEach((el: any, k: number) => ctx.fillText(String(k + 1), el.x, el.y + 0.5));
      ctx.restore();
    });
    ctx.strokeStyle = "#000";
    ctx.lineWidth = 2;
    ctx.beginPath();
    for (const t of scales.x.ticks) {
      const px = scales.x.getPixelForValue(t.value);
      const len = Math.abs(t.value % 10) < 1e-6 ? 9 : 5;
      ctx.moveTo(px, ca.bottom);
      ctx.lineTo(px, ca.bottom + len);
    }
    for (const t of scales.y.ticks) {
      const py = scales.y.getPixelForValue(t.value);
      const q = (t.value - opts.origin) / opts.major;
      const len = Math.abs(q - Math.round(q)) < 1e-6 ? 10 : 5;
      ctx.moveTo(ca.left, py);
      ctx.lineTo(ca.left - len, py);
    }
    ctx.stroke();
    ctx.lineWidth = 2.6;
    ctx.strokeRect(ca.left, ca.top, ca.right - ca.left, ca.bottom - ca.top);
    ctx.restore();
  },
};

const zeroPad = (s: any) => { s.paddingTop = 0; s.paddingBottom = 0; s.paddingLeft = 0; s.paddingRight = 0; };

function PanelChart({ p }: { p: Panel }) {
  const ref = useRef<HTMLCanvasElement>(null);
  useEffect(() => {
    const toPts = (a: P[]) => a.map(([x, y]) => ({ x, y }));
    const arcDs = {
      label: "Island arc", data: toPts(p.arc), pointStyle: "rect", pointRadius: 4.6, pointBorderWidth: 1.6,
      pointBackgroundColor: "#ffff00", pointBorderColor: "#ff0000", clip: 0, order: p.arcOnTop ? 2 : 3,
    };
    const cmvDs = {
      label: "CMV", data: toPts(p.cmv), pointStyle: "circle", pointRadius: 3.8, pointBorderWidth: 1.6,
      pointBackgroundColor: "#00ff00", pointBorderColor: "#0000ff", clip: 0, order: p.arcOnTop ? 3 : 2,
    };
    const datasets: any[] = [arcDs, cmvDs];
    if (p.unity) {
      datasets.push({
        label: "Unity", data: [{ x: 40, y: 1 }, { x: 90, y: 1 }], showLine: true, borderColor: "#008000", borderWidth: 2.6,
        pointRadius: 0, clip: 0, order: 1,
      });
    }
    if (p.refs) {
      datasets.push({
        label: "Reference", isRef: true, data: p.refs.map((y, i) => ({ x: refSiO2[i], y })), pointStyle: "rectRot",
        pointRadius: 13.5, pointBorderWidth: 4.5, pointBackgroundColor: "#00f000", pointBorderColor: "#7b1a7b", clip: 0, order: 0,
      });
    }
    const font = { family: FONT, weight: "bold" as const, size: 18 };
    const chart = new Chart(ref.current!, {
      type: "scatter",
      data: { datasets },
      plugins: [framePlugin],
      options: {
        animation: false,
        responsive: false,
        layout: { autoPadding: false, padding: { top: PADT, right: PADR, left: 0, bottom: 0 } },
        plugins: {
          legend: { display: false }, tooltip: { enabled: false }, title: { display: false },
          frame: { major: p.major, origin: p.min },
        } as any,
        scales: {
          x: {
            type: "linear", min: 40, max: 90,
            border: { display: false }, grid: { display: false, drawTicks: false },
            afterFit: (s: any) => { s.height = AXH; zeroPad(s); },
            ticks: {
              stepSize: 5, autoSkip: false, maxRotation: 0, padding: 13, color: "#000", font,
              callback: (v: any) => (p.row === 2 && xTickLabels.includes(v) ? String(v) : ""),
            },
          },
          y: {
            type: "linear", min: p.min, max: p.max,
            border: { display: false }, grid: { display: false, drawTicks: false },
            afterFit: (s: any) => { s.width = AXW; zeroPad(s); },
            ticks: {
              stepSize: p.step, autoSkip: false, padding: 14, color: "#000", font,
              callback: (v: any) => (p.labels.some((l) => Math.abs(l - v) < 1e-6) ? Number(v).toFixed(p.digits) : ""),
            },
          },
        },
      } as any,
    });
    return () => chart.destroy();
  }, [p]);
  return (
    <canvas
      ref={ref}
      width={AXW + PW + PADR}
      height={PADT + PH + AXH}
      style={{ position: "absolute", left: COLS[p.col] - AXW, top: ROWS[p.row] - PADT, display: "block" }}
    />
  );
}

const Sup = ({ t }: { t: string }) => (
  <span style={{ fontSize: "0.62em", position: "relative", top: "-0.62em" }}>{t}</span>
);

function Label({ cx, base, size = 29.5, children }: { cx: number; base: number; size?: number; children: React.ReactNode }) {
  return (
    <div
      style={{
        position: "absolute", left: cx, top: base - 0.8465 * size, transform: "translateX(-50%)", font: `bold ${size}px/1 ${FONT}`,
        color: "#000", whiteSpace: "nowrap", zIndex: 5,
      }}
    >
      {children}
    </div>
  );
}

const axisCenters = [252, 707, 1170];

export default function App() {
  return (
    <div style={{ position: "absolute", left: 0, top: 0, width: 1384, height: 992, overflow: "hidden", background: "#fff" }}>
      {panels.map((p, i) => <PanelChart key={i} p={p} />)}
      <div style={{ position: "absolute", left: 568, top: 7, width: 273, height: 91, border: "1px solid #000", background: "#fff" }} />
      <div style={{ position: "absolute", left: 611, top: 22, width: 15, height: 15, background: "#ffff00", border: "4px solid #ff0000" }} />
      <div style={{ position: "absolute", left: 609, top: 64, width: 19, height: 19, borderRadius: "50%", background: "#00ff00", border: "4px solid #0000ff" }} />
      <div style={{ position: "absolute", left: 660, top: 45 - 0.8465 * 29.5, font: `bold 29.5px/1 ${FONT}`, whiteSpace: "nowrap" }}>Island arc</div>
      <div style={{ position: "absolute", left: 660, top: 89 - 0.8465 * 29.5, font: `bold 29.5px/1 ${FONT}`, whiteSpace: "nowrap" }}>CMV</div>

      <Label cx={398} base={159}>Th</Label>
      <Label cx={865} base={153}>Sr</Label>
      <Label cx={1323.7} base={149}>Ba</Label>
      <Label cx={416.5} base={356}>A</Label>
      <Label cx={872} base={355}>B</Label>
      <Label cx={1336} base={355}>C</Label>
      <Label cx={385} base={452.7}>U/Th</Label>
      <Label cx={830} base={446.7}>Ba/Th</Label>
      <Label cx={1289.5} base={451}>Sr/Th</Label>
      <Label cx={416.7} base={630}>D</Label>
      <Label cx={872} base={630}>E</Label>
      <Label cx={1337} base={630}>F</Label>
      <Label cx={333} base={715}>(<Sup t="230" />Th)/(<Sup t="238" />U)</Label>
      <Label cx={781} base={720}>(<Sup t="226" />Ra)/(<Sup t="230" />Th)</Label>
      <Label cx={1252.5} base={716.7}>(<Sup t="231" />Pa)/(<Sup t="235" />U)</Label>
      <Label cx={416} base={892}>G</Label>
      <Label cx={872} base={892.7}>H</Label>
      <Label cx={1336} base={905}>I</Label>
      {axisCenters.map((c, i) => (
        <Label key={i} cx={c} base={983} size={21.5}>
          SiO<span style={{ fontSize: "0.6em", position: "relative", top: "0.35em" }}>2</span> (wt%)
        </Label>
      ))}
    </div>
  );
}
